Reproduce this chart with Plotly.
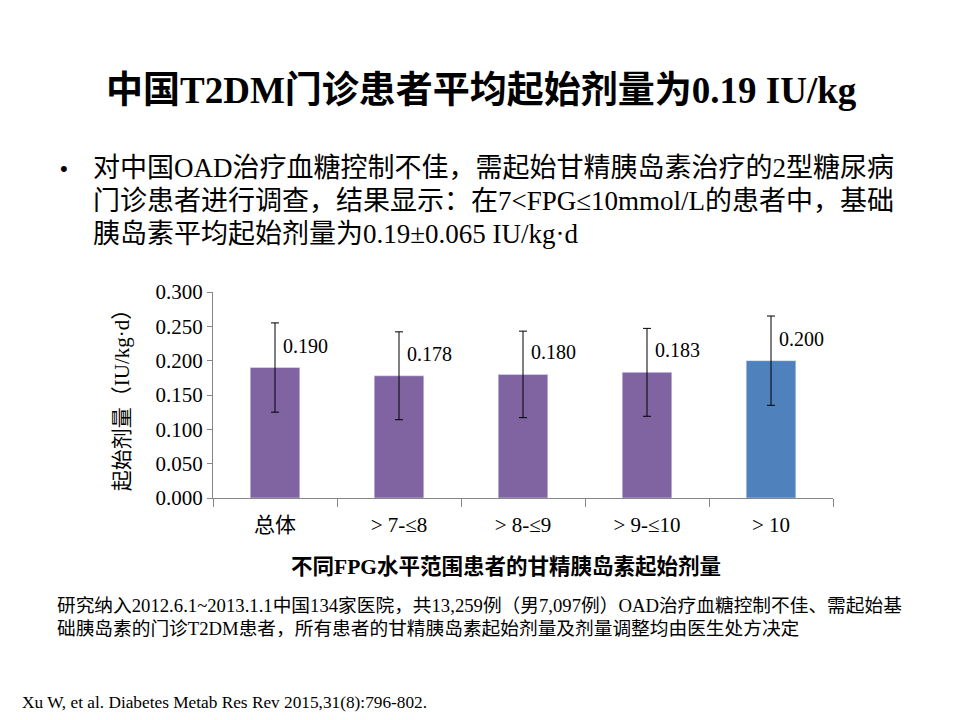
import plotly.graph_objects as go

categories = ['总体', '> 7-≤8', '> 8-≤9', '> 9-≤10', '> 10']
dose = [0.190, 0.178, 0.180, 0.183, 0.200]
dose_sd = [0.065, 0.064, 0.063, 0.064, 0.065]
bar_colors = ['#8064A2', '#8064A2', '#8064A2', '#8064A2', '#4F81BD']
y_ticks = [0.0, 0.05, 0.10, 0.15, 0.20, 0.25, 0.30]

bullet_lines = [
    '对中国OAD治疗血糖控制不佳，需起始甘精胰岛素治疗的2型糖尿病',
    '门诊患者进行调查，结果显示：在7&lt;FPG≤10mmol/L的患者中，基础',
    '胰岛素平均起始剂量为0.19±0.065 IU/kg·d',
]
note_lines = [
    '研究纳入2012.6.1~2013.1.1中国134家医院，共13,259例（男7,097例）OAD治疗血糖控制不佳、需起始基',
    '础胰岛素的门诊T2DM患者，所有患者的甘精胰岛素起始剂量及剂量调整均由医生处方决定',
]

FONT = '"Liberation Serif", "Noto Sans CJK SC"'

# plot area on the page: x 213..833, y 292..498
def px(x):
    return (x - 213) / 620

def py(y):
    return (498 - y) / 206

fig = go.Figure()
fig.add_trace(go.Bar(
    x=categories, y=dose, marker_color=bar_colors, width=0.4,
    error_y=dict(type='data', array=dose_sd, color='black', thickness=1, width=4),
))

for c, v in zip(categories, dose):
    fig.add_annotation(x=c, y=v, text=f'{v:.3f}', showarrow=False,
                       xanchor='left', yanchor='middle', xshift=6, yshift=22,
                       font=dict(family=FONT, size=20, color='black'))

fig.add_annotation(xref='paper', yref='paper', x=px(481), y=py(90),
                   text='<b>中国T2DM门诊患者平均起始剂量为0.19 IU/kg</b>', showarrow=False,
                   xanchor='center', yanchor='middle',
                   font=dict(family=FONT, size=37, color='black'))
fig.add_annotation(xref='paper', yref='paper', x=px(58), y=py(168),
                   text='•', showarrow=False, xanchor='left', yanchor='middle',
                   font=dict(family='Liberation Sans', size=22, color='black'))
for i, line in enumerate(bullet_lines):
    fig.add_annotation(xref='paper', yref='paper', x=px(91), y=py(168 + 33 * i),
                       text=line, showarrow=False, xanchor='left', yanchor='middle',
                       font=dict(family=FONT, size=27, color='black'))
fig.add_annotation(xref='paper', yref='paper', x=px(506), y=py(567),
                   text='<b>不同FPG水平范围患者的甘精胰岛素起始剂量</b>', showarrow=False,
                   xanchor='center', yanchor='middle',
                   font=dict(family=FONT, size=21.5, color='black'))
for i, line in enumerate(note_lines):
    fig.add_annotation(xref='paper', yref='paper', x=px(55), y=py(605 + 23 * i),
                       text=line, showarrow=False, xanchor='left', yanchor='middle',
                       font=dict(family=FONT, size=18.7, color='black'))
fig.add_annotation(xref='paper', yref='paper', x=px(20), y=py(702),
                   text='Xu W, et al. Diabetes Metab Res Rev 2015,31(8):796-802.',
                   showarrow=False, xanchor='left', yanchor='middle',
                   font=dict(family='Liberation Serif', size=17.3, color='black'))

fig.update_layout(
    width=960, height=720,
    margin=dict(l=205, r=135, t=284, b=230),
    paper_bgcolor='white', plot_bgcolor='white',
    showlegend=False,
    font=dict(family=FONT, size=20, color='black'),
    xaxis=dict(showline=True, linecolor='#868686', ticks='outside', tickson='boundaries',
               ticklen=8, tickcolor='#868686', showgrid=False, ticklabelstandoff=8,
               tickfont=dict(family=FONT, size=21)),
    yaxis=dict(range=[0, 0.3], tickvals=y_ticks, tickformat='.3f', showline=True,
               linecolor='#868686', ticks='outside', ticklen=5, tickcolor='#868686',
               showgrid=False, zeroline=False,
               tickfont=dict(family=FONT, size=21),
               title=dict(text='起始剂量（IU/kg·d）', font=dict(family=FONT, size=21),
                          standoff=20)),
)

fig.write_html('out.html')
